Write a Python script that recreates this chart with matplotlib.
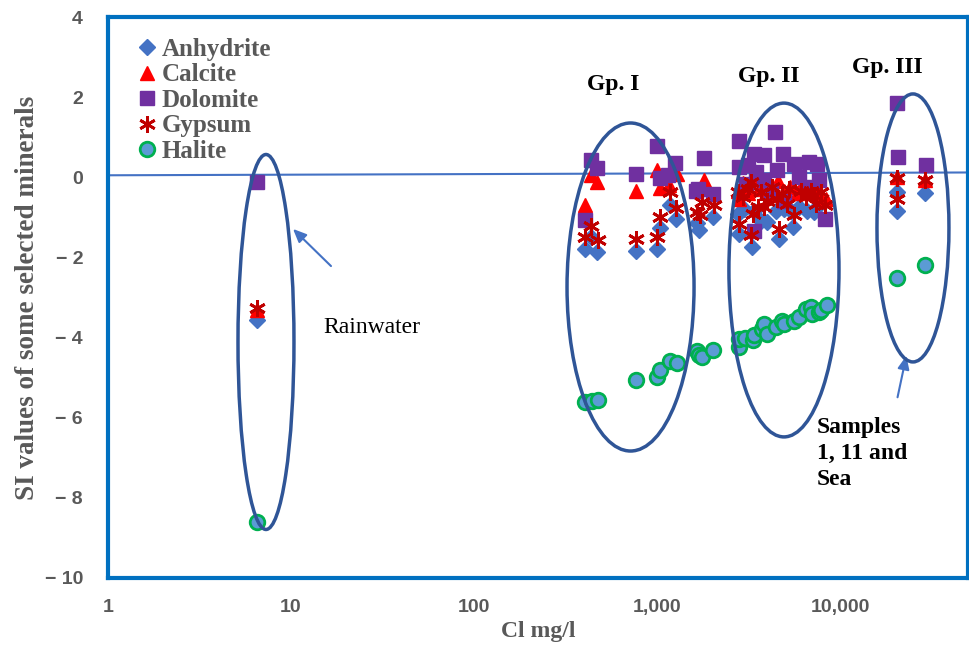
import matplotlib
matplotlib.use("Agg")
import matplotlib.pyplot as plt
from matplotlib.patches import Ellipse

# ---- data (x = Cl mg/l, y = SI) ----
anhydrite_x = [6.5, 405, 436, 470, 766, 1000, 1036, 1181, 1268, 1655, 1691, 2033,
               2754, 2814, 2997, 3295, 3394, 3688, 4010, 4450, 4645, 4945, 5370,
               5555, 5970, 6620, 7195, 7500, 20400, 20400, 29100]
anhydrite_y = [-3.55, -1.80, -1.49, -1.87, -1.84, -1.78, -1.27, -0.68, -1.03, -1.14, -1.31, -0.99,
               -0.91, -1.41, -0.78, -1.74, -0.83, -1.08, -1.12, -0.83, -1.53, -0.78, -0.83,
               -1.24, -0.73, -0.83, -0.87, -0.74, -0.37, -0.83, -0.39]

calcite_x = [6.5, 405, 436, 470, 766, 1000, 1042, 1165, 1289, 1795,
             2754, 2814, 2933, 3125, 3365, 3600, 3900, 4200, 4600, 4950, 5300,
             5800, 6300, 6800, 7300, 7900, 8400, 20400, 29100]
calcite_y = [-3.30, -0.68, 0.05, -0.12, -0.33, 0.18, -0.26, -0.20, 0.09, -0.06,
             -0.35, -0.55, -0.15, -0.40, -0.05, -0.30, -0.20, -0.45, -0.10, -0.35, -0.25,
             -0.40, -0.15, -0.30, -0.20, -0.45, -0.55, 0.01, -0.08]

dolomite_x = [6.5, 405, 436, 470, 766, 1000, 1042, 1148, 1257, 1630, 1676, 1795, 2033,
              2814, 2814, 3058, 3125, 3394, 3467, 3394, 3850, 3850, 4180, 4415, 4545,
              4900, 4945, 5600, 5970, 6620, 6760, 7500, 7660, 8320, 20400, 20660, 29300]
dolomite_y = [-0.12, -1.06, 0.44, 0.22, 0.07, 0.78, -0.02, 0.05, 0.36, -0.35, -0.28, 0.48, -0.41,
              0.91, 0.26, -0.16, 0.30, 0.59, 0.13, -1.33, 0.55, -0.08, -0.33, 1.13, 0.18,
              0.59, -0.58, 0.34, 0.01, -0.24, 0.38, 0.34, -0.08, -1.03, 1.86, 0.51, 0.30]

gypsum_x = [6.5, 405, 434, 474, 766, 1000, 1036, 1181, 1268, 1655, 1713, 1763, 2041,
            2814, 3254, 3325, 3254, 3688, 4010, 4270, 4645, 4840, 5260, 5600, 6085,
            6475, 7195, 7820, 8320, 2933, 2754, 3540, 3850, 4545, 5150, 6900, 3125, 7345,
            20400, 20400, 29100]
gypsum_y = [-3.25, -1.49, -1.22, -1.56, -1.53, -1.49, -0.99, -0.37, -0.76, -0.87, -0.95, -0.62, -0.70,
            -1.16, -0.12, -0.91, -1.45, -0.37, -0.58, -0.24, -1.28, -0.41, -0.28, -0.95, -0.33,
            -0.49, -0.45, -0.37, -0.70, -0.49, -0.37, -0.74, -0.74, -0.53, -0.66, -0.33, -0.28, -0.66,
            -0.03, -0.53, -0.08]

halite_x = [6.5, 405, 440, 474, 766, 1000, 1042, 1181, 1280, 1650, 1698, 1763, 2015,
            2800, 2814, 3020, 3325, 3365, 3767, 3850, 4010, 4450, 4840, 4945, 5600,
            5970, 6475, 6900, 7045, 7660, 7880, 8500, 20570, 29100]
halite_y = [-8.60, -5.62, -5.59, -5.56, -5.05, -4.99, -4.81, -4.58, -4.64, -4.34, -4.43, -4.48, -4.31,
            -4.24, -4.03, -4.01, -4.06, -3.93, -3.78, -3.66, -3.91, -3.74, -3.58, -3.66, -3.58,
            -3.48, -3.28, -3.23, -3.41, -3.37, -3.31, -3.18, -2.52, -2.18]

ref_line_x = [1, 50000]
ref_line_y = [0.05, 0.12]

xtick_vals = [1, 10, 100, 1000, 10000]
xtick_labels = ["1", "10", "100", "1,000", "10,000"]
ytick_vals = [4, 2, 0, -2, -4, -6, -8, -10]
ytick_labels = ["4", "2", "0", "\u2212 2", "\u2212 4", "\u2212 6", "\u2212 8", "\u2212 10"]

gray = "#595959"
serif = "Liberation Serif"

fig = plt.figure(figsize=(9.7, 6.52), dpi=100)
ax = fig.add_axes([108 / 970, 74 / 652, 860 / 970, 561 / 652])

ax.plot(anhydrite_x, anhydrite_y, ls="none", marker="D", ms=8.5, color="#4472C4",
        mec="#4472C4", label="Anhydrite")
ax.plot(calcite_x, calcite_y, ls="none", marker="^", ms=10, color="#FF0000",
        mec="#FF0000", label="Calcite")
ax.plot(dolomite_x, dolomite_y, ls="none", marker="s", ms=10, color="#7030A0",
        mec="#7030A0", label="Dolomite")
ax.plot(gypsum_x, gypsum_y, ls="none", marker=(6, 2, 0), ms=12, mew=2,
        color="#C00000", label="Gypsum")
ax.plot(halite_x, halite_y, ls="none", marker="o", ms=10.5, mew=2, mfc="#5B9BD5",
        mec="#00B050", label="Halite")

ax.plot(ref_line_x, ref_line_y, color="#4472C4", lw=1.5, zorder=1)

ax.set_xscale("log")
ax.set_xlim(1, 50000)
ax.set_ylim(-10, 4)
ax.set_xticks(xtick_vals)
ax.set_xticklabels(xtick_labels)
ax.set_yticks(ytick_vals)
ax.set_yticklabels(ytick_labels)
ax.minorticks_off()
ax.tick_params(length=0, labelsize=14, labelcolor=gray)
ax.tick_params(axis="y", pad=18)
ax.tick_params(axis="x", pad=15)
for lab in ax.get_xticklabels() + ax.get_yticklabels():
    lab.set_fontweight("bold")
    lab.set_family("Liberation Sans")

for sp in ax.spines.values():
    sp.set_color("#0070C0")
    sp.set_linewidth(3)

ax.set_ylabel("SI values of some selected minerals", fontsize=19.5, fontweight="bold",
              color=gray, family=serif, labelpad=3)
ax.set_xlabel("Cl mg/l", fontsize=17, fontweight="bold", color=gray, family=serif,
              labelpad=4)

# group ellipses (axes fraction)
ellipses = [(0.1837, 0.4207, 0.0651, 0.6684),
            (0.6076, 0.5187, 0.1477, 0.5847),
            (0.7860, 0.5490, 0.1280, 0.5950),
            (0.9360, 0.6240, 0.0837, 0.4777)]
for cx, cy, w, h in ellipses:
    ax.add_patch(Ellipse((cx, cy), w, h, transform=ax.transAxes, fill=False,
                         ec="#2F5597", lw=2.5, zorder=5))

txt = dict(transform=ax.transAxes, family=serif, fontsize=17)
ax.text(0.557, 0.870, "Gp. I", fontweight="bold", va="baseline", **txt)
ax.text(0.7326, 0.884, "Gp. II", fontweight="bold", va="baseline", **txt)
ax.text(0.865, 0.900, "Gp. III", fontweight="bold", va="baseline", **txt)
ax.text(0.25, 0.4474, "Rainwater", va="center", **txt)
ax.text(0.8244, 0.287, "Samples\n1, 11 and\nSea", fontweight="bold", va="top",
        linespacing=1.3, **txt)

arrow = dict(arrowstyle="-|>,head_length=0.8,head_width=0.35", color="#4472C4", lw=1.5)
ax.annotate("", xy=(0.2128, 0.6257), xytext=(0.2616, 0.5526),
            xycoords="axes fraction", textcoords="axes fraction", arrowprops=arrow)
ax.annotate("", xy=(0.929, 0.401), xytext=(0.9174, 0.3173),
            xycoords="axes fraction", textcoords="axes fraction", arrowprops=arrow)

leg = ax.legend(loc="upper left", bbox_to_anchor=(0.0335, 0.9626), frameon=False,
                prop=dict(family=serif, weight="bold", size=18), labelspacing=0.1,
                handlelength=0.8, handletextpad=0.2, borderaxespad=0, borderpad=0)
for t in leg.get_texts():
    t.set_color(gray)

fig.savefig("out.png", dpi=100)
